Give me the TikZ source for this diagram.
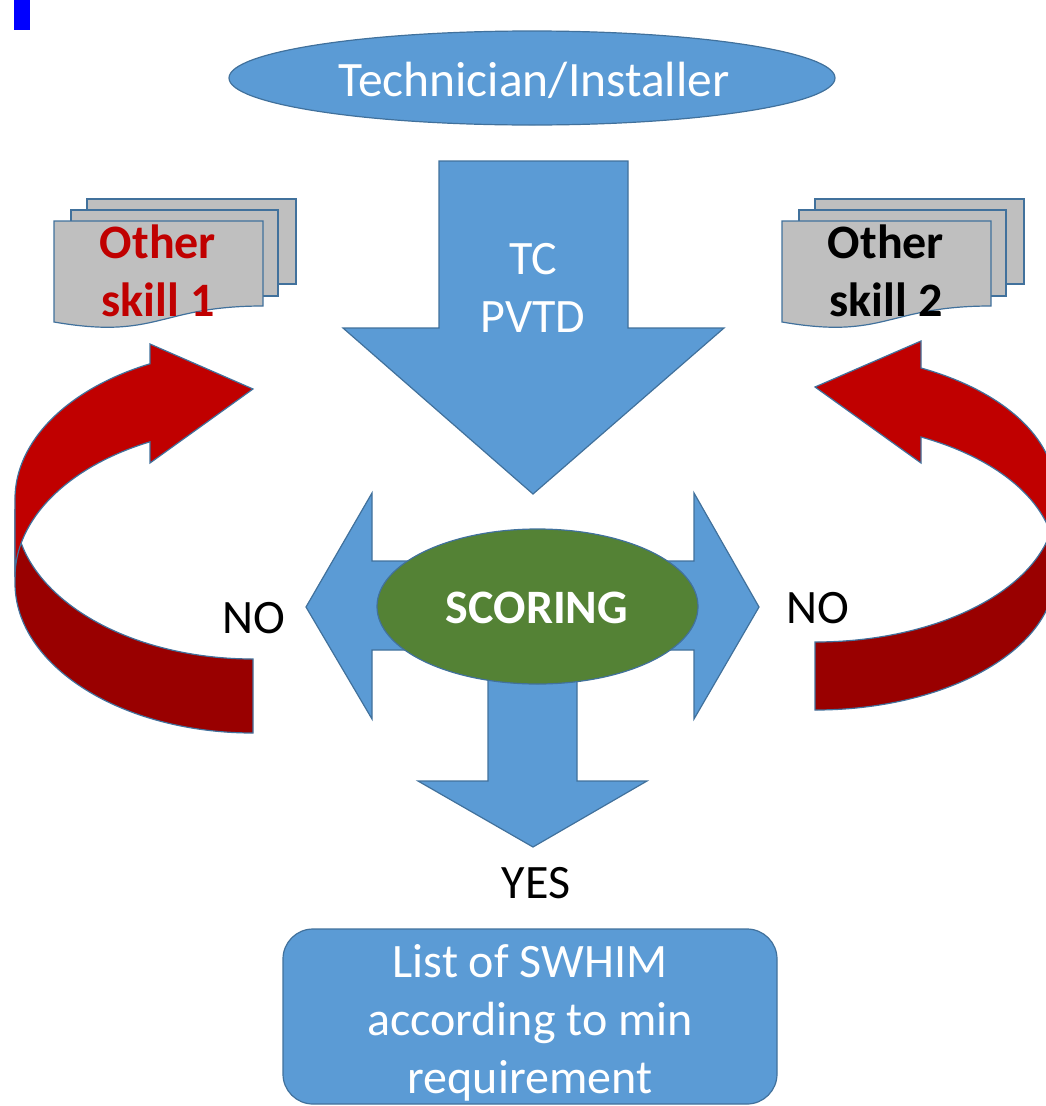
\documentclass[tikz,border=0pt]{standalone}
\usepackage{fontspec}
\setmainfont{Carlito}
\usetikzlibrary{shapes.geometric}
\definecolor{bfill}{HTML}{5B9BD5}
\definecolor{bline}{HTML}{41719C}
\definecolor{sgreen}{HTML}{548235}
\definecolor{redA}{HTML}{C00000}
\definecolor{redB}{HTML}{990000}
\definecolor{docgray}{HTML}{BFBFBF}
\definecolor{pureblue}{RGB}{0,0,255}
\begin{document}
\begin{tikzpicture}[x=1pt,y=1pt,
  blk/.style={fill=bfill, draw=bline, line width=1.2pt, line join=miter},
  redlight/.style={fill=redA, draw=bline, line width=1.2pt, line join=miter},
  reddark/.style={fill=redB, draw=bline, line width=1.2pt, line join=miter},
  docst/.style={fill=docgray, draw=bline, line width=1.2pt},
  txt/.style={font=\fontsize{48}{58}\selectfont, inner sep=0pt, align=center},
  btxt/.style={font=\fontsize{48}{58}\selectfont\bfseries, inner sep=0pt, align=center}]
\useasboundingbox (0,0) rectangle (1046,-1106);
\clip (0,0) rectangle (1046,-1106);

% small blue mark
\fill[pureblue] (14,0) rectangle (30,-30);

% top ellipse
\node[ellipse, blk, minimum width=606, minimum height=94, inner sep=0pt] (tech) at (532,-78) {};
\node[txt, font=\fontsize{49.5}{58}\selectfont, white, anchor=base] (techt) at (534,-96) {Technician/Installer};

% big down arrow
\draw[blk] (439,-161) -- (628,-161) -- (628,-328) -- (724,-328) -- (533,-494)
  -- (343,-328) -- (439,-328) -- cycle;
\node[txt, white] (tc) at (533,-287.5) {TC\\PVTD};

% three-way arrow
\draw[blk] (306,-607) -- (372,-493) -- (372,-561) -- (694,-561) -- (694,-493)
  -- (759,-607) -- (694,-719) -- (694,-650) -- (577,-650) -- (577,-781)
  -- (647,-781) -- (533,-847) -- (418,-781) -- (488,-781) -- (488,-650)
  -- (372,-650) -- (372,-719) -- cycle;

% scoring ellipse
\node[ellipse, fill=sgreen, draw=bline, line width=1.2pt, minimum width=321, minimum height=155, inner sep=0pt] (score) at (537.5,-606.5) {};
\node[btxt, white, anchor=base] (scoret) at (537,-623) {SCORING};

% bottom box
\node[blk, rounded corners=30pt, minimum width=494, minimum height=175, inner sep=0pt] (list) at (530,-1016.5) {};
\node[txt, white] (listt) at (530,-1023) {List of SWHIM\\according to min\\requirement};

% labels
\node[txt, anchor=base] (yes) at (536,-898) {YES};
\node[txt, anchor=base] (noL) at (254,-633) {NO};
\node[txt, anchor=base] (noR) at (818,-623) {NO};

% left documents
\draw[docst] (87,-199) rectangle (296,-284);
\draw[docst] (71,-210) rectangle (278,-296);
\draw[docst] (54,-221) -- (263,-221) -- (263,-306)
  .. controls (158,-306) and (158,-340) .. (54,-322) -- cycle;
\node[btxt, text=redA] (doc1) at (158,-271) {Other\\skill 1};

% right documents
\draw[docst] (815,-199) rectangle (1024,-284);
\draw[docst] (799,-210) rectangle (1006,-296);
\draw[docst] (782,-221) -- (991,-221) -- (991,-306)
  .. controls (886,-306) and (886,-340) .. (782,-322) -- cycle;
\node[btxt, text=black] (doc2) at (886,-271) {Other\\skill 2};

% left curved arrow
\draw[reddark] (15,-583) arc[start angle=180, end angle=270, x radius=238, y radius=150]
  -- (253,-659) arc[start angle=270, end angle=180, x radius=238, y radius=150] -- cycle;
\draw[redlight] (150,-363.8) arc[start angle=115.64, end angle=180, x radius=238, y radius=150]
  -- (15,-577) arc[start angle=180, end angle=115.64, x radius=238, y radius=150]
  -- (150,-463) -- (253,-389) -- (150,-344) -- cycle;

% right curved arrow
\draw[reddark] (1055,-574) arc[start angle=0, end angle=-90, x radius=240, y radius=136]
  -- (815,-642) arc[start angle=-90, end angle=0, x radius=240, y radius=136] -- cycle;
\draw[redlight] (921,-368) arc[start angle=63.79, end angle=0, x radius=240, y radius=136]
  -- (1055,-559) arc[start angle=0, end angle=63.79, x radius=240, y radius=136]
  -- (921,-463) -- (815,-387) -- (921,-341) -- cycle;
\end{tikzpicture}
\end{document}
